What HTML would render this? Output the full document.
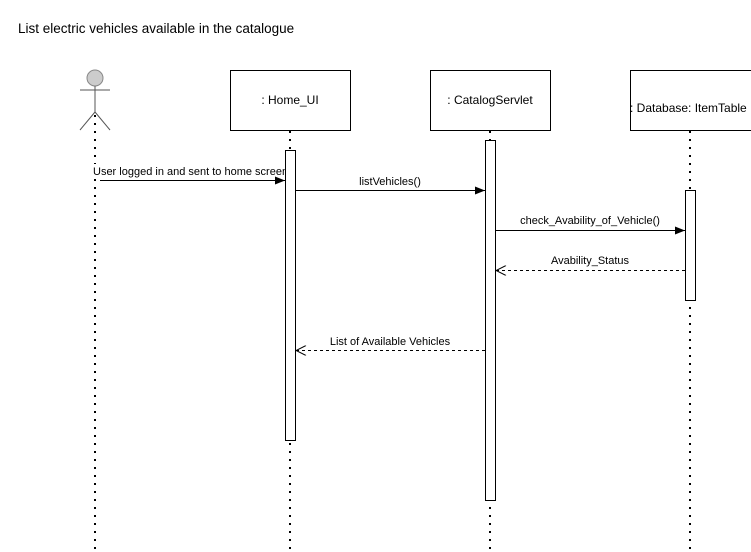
<!DOCTYPE html>
<html><head><meta charset="utf-8"><style>
html,body{margin:0;padding:0;background:#fff;width:751px;height:552px;overflow:hidden}
text{font-family:"Liberation Sans",Arial,sans-serif;font-size:11px;fill:#000}
</style></head><body>
<svg width="751" height="552" viewBox="0 0 751 552" xmlns="http://www.w3.org/2000/svg">
<defs>
<marker id="fa" markerWidth="10" markerHeight="8" refX="10" refY="4" orient="auto" markerUnits="userSpaceOnUse"><path d="M0,0 L10,4 L0,8 Z" fill="#000"/></marker>
<marker id="oa" markerWidth="12" markerHeight="10" refX="1" refY="5" orient="auto" markerUnits="userSpaceOnUse"><path d="M11,0 L1,5 L11,10" fill="none" stroke="#000"/></marker>
</defs>
<text x="18" y="33" style="font-size:13.5px">List electric vehicles available in the catalogue</text>
<g stroke="#000" stroke-width="2" stroke-dasharray="2,6" fill="none">
<line x1="95" y1="115" x2="95" y2="552"/>
<line x1="290" y1="131" x2="290" y2="552"/>
<line x1="490" y1="131" x2="490" y2="552"/>
<line x1="690" y1="131" x2="690" y2="552"/>
</g>
<circle cx="95" cy="78" r="8" fill="#ccc" stroke="#888"/>
<g stroke="#555" fill="none">
<line x1="95" y1="86" x2="95" y2="112"/>
<line x1="80" y1="90" x2="110" y2="90"/>
<line x1="95" y1="112" x2="80" y2="130"/>
<line x1="95" y1="112" x2="110" y2="130"/>
</g>
<g fill="#fff" stroke="#000">
<rect x="230.5" y="70.5" width="120" height="60"/>
<rect x="430.5" y="70.5" width="120" height="60"/>
<rect x="630.5" y="70.5" width="122" height="60"/>
</g>
<g style="font-size:12px">
<text x="290" y="104" text-anchor="middle" style="font-size:12px">: Home_UI</text>
<text x="490" y="104" text-anchor="middle" style="font-size:12px">: CatalogServlet</text>
<text x="630" y="112" style="font-size:12px">: Database: ItemTable</text>
</g>
<rect x="93" y="164" width="192" height="13" fill="#fff"/>
<text x="93" y="175">User logged in and sent to home screen</text>
<g fill="#fff" stroke="#000">
<rect x="285.5" y="150.5" width="10" height="290"/>
<rect x="485.5" y="140.5" width="10" height="360"/>
<rect x="685.5" y="190.5" width="10" height="110"/>
</g>
<g stroke="#000" fill="none">
<line x1="100" y1="180.5" x2="285" y2="180.5" marker-end="url(#fa)"/>
<line x1="296" y1="190.5" x2="485" y2="190.5" marker-end="url(#fa)"/>
<line x1="496" y1="230.5" x2="685" y2="230.5" marker-end="url(#fa)"/>
<line x1="496" y1="270.5" x2="685" y2="270.5" stroke-dasharray="3,3" marker-start="url(#oa)"/>
<line x1="296" y1="350.5" x2="485" y2="350.5" stroke-dasharray="3,3" marker-start="url(#oa)"/>
</g>
<text x="390" y="185" text-anchor="middle">listVehicles()</text>
<text x="590" y="224" text-anchor="middle">check_Avability_of_Vehicle()</text>
<text x="590" y="264" text-anchor="middle">Avability_Status</text>
<text x="390" y="345" text-anchor="middle">List of Available Vehicles</text>
</svg>
</body></html>
